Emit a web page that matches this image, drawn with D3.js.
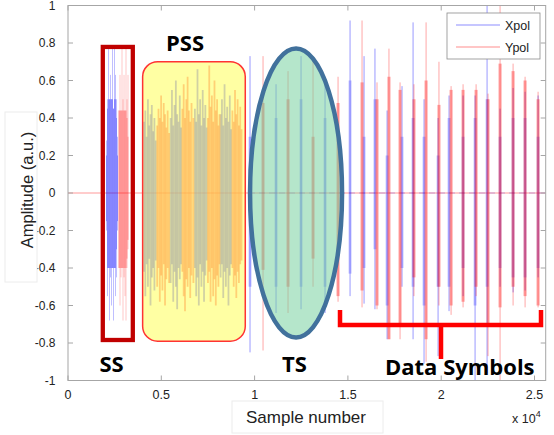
<!DOCTYPE html>
<html><head><meta charset="utf-8">
<script src="https://cdn.jsdelivr.net/npm/d3@7"></script>
<style>body{margin:0;background:#fff}svg{display:block}</style>
</head><body><svg id="c" width="554" height="435"></svg>
<script>
// ---------- data ----------
const xTicks = [0, 5000, 10000, 15000, 20000, 25000];
const xTickLabels = ["0", "0.5", "1", "1.5", "2", "2.5"];
const yTicks = [-1, -0.8, -0.6, -0.4, -0.2, 0, 0.2, 0.4, 0.6, 0.8, 1];
const yTickLabels = ["-1", "-0.8", "-0.6", "-0.4", "-0.2", "0", "0.2", "0.4", "0.6", "0.8", "1"];
const seriesNames = ["Xpol", "Ypol"];

// SS burst: [sample, max, min, coreMax, coreMin]
const ssXpol = [[2064,0.28,-0.20,0.2,-0.15],[2117,0.50,-0.55,0.45,-0.4],[2171,0.77,-0.40,0.5,-0.4],[2224,0.50,-0.68,0.5,-0.4],
  [2278,0.63,-0.45,0.5,-0.4],[2332,0.50,-0.60,0.5,-0.4],[2385,0.77,-0.40,0.5,-0.4],[2439,0.45,-0.68,0.45,-0.4],
  [2492,0.77,-0.40,0.5,-0.4],[2546,0.63,-0.55,0.5,-0.4],[2600,0.50,-0.45,0.4,-0.3],[2653,0.30,-0.20,0.2,-0.15]];
const ssYpol = [[2734,0.44,-0.40,0.44,-0.4],[2787,0.63,-0.60,0.44,-0.4],[2841,0.44,-0.45,0.44,-0.4],[2894,0.77,-0.40,0.44,-0.4],
  [2948,0.50,-0.68,0.44,-0.4],[3002,0.63,-0.45,0.44,-0.4],[3055,0.44,-0.55,0.44,-0.4],[3109,0.77,-0.68,0.44,-0.4],
  [3162,0.50,-0.40,0.4,-0.35],[3216,0.63,-0.30,0.3,-0.25]];

// PSS: [sample, max, min]; Xpol and Ypol alternate in blocks
const pssXpol = [
  [4074,0.38,-0.42],[4144,0.44,-0.55],[4213,0.30,-0.38],[4283,0.50,-0.50],[4353,0.36,-0.35],[4422,0.42,-0.60],[4492,0.47,-0.45],[4562,0.33,-0.40],[4631,0.40,-0.52],[4701,0.28,-0.36],
  [5500,0.40,-0.48],[5570,0.55,-0.38],[5640,0.36,-0.58],[5710,0.47,-0.42],[5780,0.60,-0.50],[5850,0.42,-0.62],[5920,0.38,-0.40],[5990,0.52,-0.46],[6060,0.35,-0.38],
  [6800,0.45,-0.40],[6870,0.38,-0.55],[6940,0.66,-0.45],[7010,0.42,-0.60],[7080,0.50,-0.38],[7150,0.36,-0.50],[7220,0.55,-0.42],[7290,0.40,-0.58],[7360,0.47,-0.44],[7430,0.35,-0.36],
  [8180,0.42,-0.45],[8250,0.50,-0.38],[8320,0.36,-0.56],[8390,0.58,-0.42],[8460,0.40,-0.50],[8530,0.46,-0.40],[8600,0.38,-0.60],[8670,0.52,-0.44],[8740,0.34,-0.38]];
const pssYpol = [
  [4780,0.36,-0.50],[4850,0.45,-0.40],[4920,0.40,-0.58],[4990,0.52,-0.44],[5060,0.38,-0.52],[5130,0.48,-0.38],[5200,0.42,-0.60],[5270,0.35,-0.46],[5340,0.44,-0.40],[5420,0.32,-0.48],
  [6130,0.45,-0.42],[6200,0.58,-0.55],[6270,0.40,-0.63],[6340,0.50,-0.46],[6410,0.62,-0.50],[6480,0.44,-0.40],[6550,0.38,-0.56],[6620,0.48,-0.44],[6720,0.40,-0.48],
  [7500,0.40,-0.48],[7570,0.68,-0.42],[7640,0.46,-0.58],[7710,0.52,-0.40],[7780,0.38,-0.55],[7850,0.60,-0.46],[7920,0.44,-0.60],[7990,0.50,-0.44],[8060,0.36,-0.50],[8120,0.42,-0.38],
  [8810,0.44,-0.40],[8880,0.38,-0.50],[8950,0.55,-0.44],[9020,0.42,-0.56],[9090,0.50,-0.42],[9160,0.36,-0.48],[9230,0.46,-0.38],[9300,0.34,-0.36]];

// TS and data symbol pulses: [sample, max, min, coreMax, coreMin]
const pulsesXpol = [[9755,0.73,-0.85,0.3,-0.5],[11149,0.58,-0.64,0.4,-0.5],[12489,0.73,-0.62,0.5,-0.5],[13775,0.62,-0.64,0.4,-0.5],
  [15115,0.92,-0.55,0.6,-0.43],[15866,0.73,-0.59,0.3,-0.4],[16450,0.77,-0.62,0.5,-0.3],[17100,0.44,-0.78,0.2,-0.6],
  [17900,0.57,-0.50,0.3,-0.4],[18492,0.91,-0.78,0.4,-0.5],[19080,0.50,-0.91,0.3,-0.6],[19832,0.40,-0.87,0.2,-0.5],
  [20420,0.52,-0.63,0.4,-0.5],[21172,0.52,-0.55,0.3,-0.4],[21815,0.52,-1.05,0.4,-0.6],[22458,1.05,-0.96,0.5,-0.5],
  [23155,0.45,-0.50,0.3,-0.4],[23852,0.56,-0.53,0.4,-0.45],[24495,0.54,-0.52,0.4,-0.45],[25192,0.52,-0.45,0.3,-0.4]];
const pulsesYpol = [[10452,0.73,-0.84,0.48,-0.41],[11792,0.65,-0.64,0.5,-0.5],[13132,0.73,-0.50,0.3,-0.35],[14472,0.62,-0.58,0.48,-0.55],
  [15758,0.92,-0.61,0.59,-0.52],[16560,0.59,-0.62,0.5,-0.6],[17200,0.77,-0.78,0.62,-0.78],[17795,0.59,-0.78,0.55,-0.7],
  [18540,0.58,-0.55,0.5,-0.45],[19190,0.91,-0.90,0.6,-0.78],[19880,0.70,-0.60,0.47,-0.5],[20530,0.57,-0.65,0.55,-0.6],
  [21172,0.58,-0.61,0.55,-0.58],[21870,0.58,-0.55,0.55,-0.5],[22510,0.53,-0.87,0.5,-0.7],[23155,1.05,-1.05,0.69,-0.61],
  [23852,0.69,-0.60,0.65,-0.5],[24495,0.62,-0.61,0.6,-0.55],[25192,0.54,-0.61,0.5,-0.6]];

// ---------- chart ----------
const svg = d3.select("#c");
const L = 68, R = 545.7, T = 5.5, B = 380.5;
const x = d3.scaleLinear().domain([0, 25600]).range([L, R]);
const y = d3.scaleLinear().domain([-1, 1]).range([B, T]);
const colors = {Xpol: "#0000ff", Ypol: "#ff0000"};
const sans = "Liberation Sans, Arial, Helvetica, sans-serif";

svg.append("defs").append("clipPath").attr("id", "pc")
  .append("rect").attr("x", L).attr("y", T).attr("width", R - L).attr("height", B - T);

const plot = svg.append("g").attr("clip-path", "url(#pc)");

// zero lines
plot.append("line").attr("x1", x(0)).attr("x2", x(25600)).attr("y1", y(0)).attr("y2", y(0))
  .attr("stroke", colors.Ypol).attr("stroke-opacity", 0.4).attr("stroke-width", 1);
plot.append("line").attr("x1", x(9700)).attr("x2", x(25600)).attr("y1", y(0)).attr("y2", y(0))
  .attr("stroke", colors.Xpol).attr("stroke-opacity", 0.22).attr("stroke-width", 1.2)
  .attr("stroke-dasharray", "6,4");

function drawPulses(data, color, coreW, thinOp, coreOp) {
  const g = plot.append("g");
  g.selectAll("rect").data(data).join("rect")
    .attr("x", d => x(d[0]) - coreW / 2).attr("width", coreW)
    .attr("y", d => y(d[3])).attr("height", d => y(d[4]) - y(d[3]))
    .attr("fill", color).attr("fill-opacity", coreOp);
  g.selectAll("line").data(data).join("line")
    .attr("x1", d => x(d[0])).attr("x2", d => x(d[0]))
    .attr("y1", d => y(d[1])).attr("y2", d => y(d[2]))
    .attr("stroke", color).attr("stroke-width", 1).attr("stroke-opacity", thinOp);
}
function drawLines(data, color, w, op) {
  plot.append("g").selectAll("line").data(data).join("line")
    .attr("x1", d => x(d[0])).attr("x2", d => x(d[0]))
    .attr("y1", d => y(d[1])).attr("y2", d => y(d[2]))
    .attr("stroke", color).attr("stroke-width", w).attr("stroke-opacity", op);
}

drawPulses(ssXpol, colors.Xpol, 1, 0.25, 0.3);
drawPulses(ssYpol, colors.Ypol, 1, 0.22, 0.28);

drawLines(pssXpol, colors.Xpol, 1.8, 0.45);
drawLines(pssYpol, colors.Ypol, 1.8, 0.45);

drawPulses(pulsesXpol, colors.Xpol, 3, 0.4, 0.22);
drawPulses(pulsesYpol, colors.Ypol, 3.2, 0.35, 0.32);

// axes frame and ticks
const ax = svg.append("g");
ax.append("rect").attr("x", L).attr("y", T).attr("width", R - L).attr("height", B - T)
  .attr("fill", "none").attr("stroke", "#a6a6a6").attr("stroke-width", 1);
xTicks.forEach((t, i) => {
  ax.append("line").attr("x1", x(t)).attr("x2", x(t)).attr("y1", B).attr("y2", B - 5).attr("stroke", "#a6a6a6");
  ax.append("line").attr("x1", x(t)).attr("x2", x(t)).attr("y1", T).attr("y2", T + 5).attr("stroke", "#a6a6a6");
  ax.append("text").attr("x", x(t)).attr("y", 399).attr("text-anchor", "middle")
    .attr("font-family", sans).attr("font-size", 12.5).attr("fill", "#222")
    .text(xTickLabels[i]);
});
yTicks.forEach((t, i) => {
  ax.append("line").attr("x1", L).attr("x2", L + 5).attr("y1", y(t)).attr("y2", y(t)).attr("stroke", "#a6a6a6");
  ax.append("line").attr("x1", R).attr("x2", R - 5).attr("y1", y(t)).attr("y2", y(t)).attr("stroke", "#a6a6a6");
  ax.append("text").attr("x", 55.5).attr("y", y(t) + 4.3).attr("text-anchor", "end")
    .attr("font-family", sans).attr("font-size", 12).attr("fill", "#222")
    .text(yTickLabels[i]);
});

// axis labels with faint boxes
svg.append("rect").attr("x", 232).attr("y", 401).attr("width", 151).attr("height", 32)
  .attr("fill", "#fff").attr("stroke", "#ececec");
svg.append("text").attr("x", 306).attr("y", 423).attr("text-anchor", "middle")
  .attr("font-family", sans).attr("font-size", 17).attr("fill", "#222")
  .text("Sample number");
svg.append("rect").attr("x", 5).attr("y", 112).attr("width", 32).attr("height", 170)
  .attr("fill", "#fff").attr("stroke", "#ececec");
svg.append("text").attr("transform", "translate(33,190) rotate(-90)").attr("text-anchor", "middle")
  .attr("font-family", sans).attr("font-size", 16.5).attr("fill", "#222")
  .text("Amplitude (a.u.)");
const ex = svg.append("text").attr("x", 512).attr("y", 423)
  .attr("font-family", sans).attr("font-size", 12.5).attr("fill", "#222");
ex.append("tspan").text("x 10");
ex.append("tspan").attr("dy", -6).attr("font-size", 9).text("4");

// annotation overlays
svg.append("rect").attr("x", x(4000)).attr("y", y(0.7)).attr("width", x(9500) - x(4000)).attr("height", y(-0.79) - y(0.7))
  .attr("rx", 15).attr("fill", "#ffff66").attr("fill-opacity", 0.6).attr("stroke", "#ff3333").attr("stroke-width", 1.5);
svg.append("rect").attr("x", x(1865)).attr("y", y(0.779)).attr("width", x(3473) - x(1865)).attr("height", y(-0.784) - y(0.779))
  .attr("fill", "none").attr("stroke", "#c00000").attr("stroke-width", 4.3);
svg.append("ellipse").attr("cx", x(12221)).attr("cy", y(0)).attr("rx", 46).attr("ry", 144.5)
  .attr("fill", "#78d2a0").attr("fill-opacity", 0.55).attr("stroke", "#41719c").attr("stroke-width", 4.5);

// bracket
svg.append("path").attr("d", "M340,310V325H541V310M441,325V359")
  .attr("fill", "none").attr("stroke", "#ff0000").attr("stroke-width", 4.5);

const bold = t => svg.append("text").attr("font-family", "Open Sans, sans-serif").attr("font-weight", 700)
  .attr("font-size", 22).attr("fill", "#000").text(t);
bold("PSS").attr("x", 166).attr("y", 51);
bold("SS").attr("x", 99.5).attr("y", 372);
bold("TS").attr("x", 282).attr("y", 372);
bold("Data Symbols").attr("x", 385).attr("y", 375);

// legend
const lg = svg.append("g");
lg.append("rect").attr("x", 447).attr("y", 13).attr("width", 93).attr("height", 46)
  .attr("fill", "#fff").attr("stroke", "#8c8c8c").attr("stroke-width", 0.8);
seriesNames.forEach((n, i) => {
  lg.append("line").attr("x1", 456).attr("x2", 500).attr("y1", 25 + i * 22).attr("y2", 25 + i * 22)
    .attr("stroke", colors[n]).attr("stroke-opacity", 0.45).attr("stroke-width", 1);
  lg.append("text").attr("x", 505).attr("y", 30 + i * 22)
    .attr("font-family", sans).attr("font-size", 12.5).attr("fill", "#222").text(n);
});
</script></body></html>
